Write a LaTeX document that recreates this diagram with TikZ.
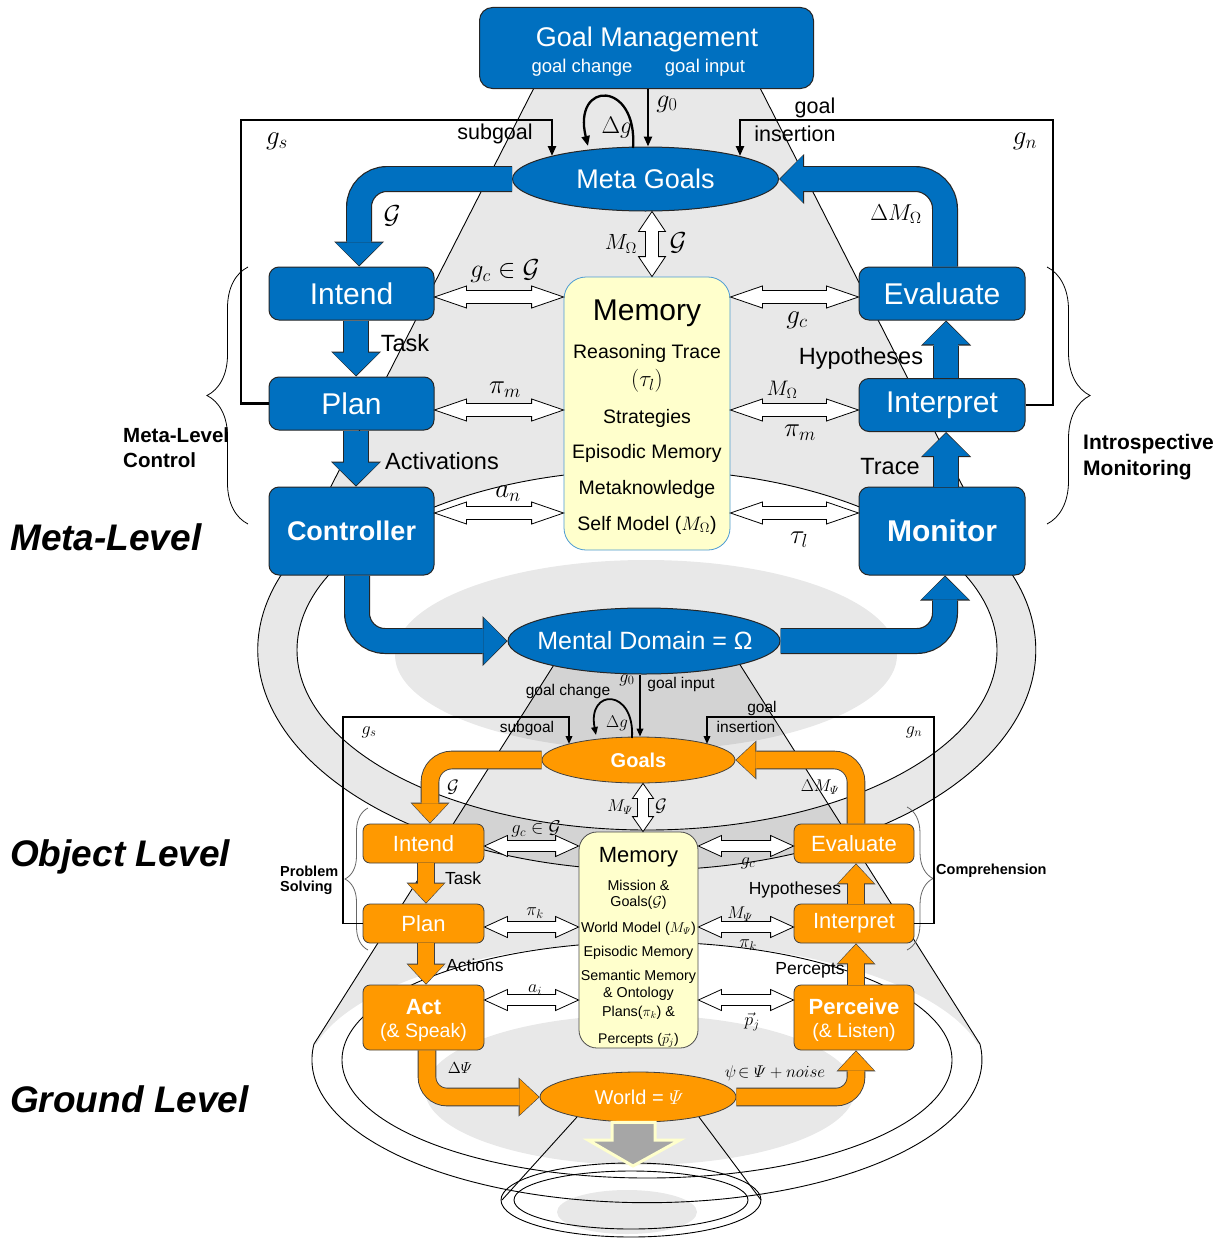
\RequirePackage{fix-cm}
\documentclass[tikz,border=0pt]{standalone}
\usepackage{amsmath}
\usepackage{fontspec}
\setmainfont{Liberation Sans}
\usetikzlibrary{arrows.meta,calc,decorations.pathreplacing,shapes.geometric}
\definecolor{mblue}{HTML}{0070C0}
\definecolor{morange}{HTML}{FF9900}
\definecolor{memfill}{HTML}{FFFFCC}
\newcommand\fsz[1]{\fontsize{#1}{#1}\selectfont}
\newcommand\hdbl[5]{\draw[hol] let \p1=#1, \p2=#2 in (\x1,\y1) -- ({\x1+#3pt},{\y1+#4pt}) -- ({\x1+#3pt},{\y1+#5pt}) -- ({\x2-#3pt},{\y1+#5pt}) -- ({\x2-#3pt},{\y1+#4pt}) -- (\x2,\y1) -- ({\x2-#3pt},{\y1-#4pt}) -- ({\x2-#3pt},{\y1-#5pt}) -- ({\x1+#3pt},{\y1-#5pt}) -- ({\x1+#3pt},{\y1-#4pt}) -- cycle;}
\newcommand\vdbl[5]{\draw[hol] let \p1=#1, \p2=#2 in (\x1,\y1) -- ({\x1+#4pt},{\y1-#3pt}) -- ({\x1+#5pt},{\y1-#3pt}) -- ({\x1+#5pt},{\y2+#3pt}) -- ({\x1+#4pt},{\y2+#3pt}) -- (\x1,\y2) -- ({\x1-#4pt},{\y2+#3pt}) -- ({\x1-#5pt},{\y2+#3pt}) -- ({\x1-#5pt},{\y1-#3pt}) -- ({\x1-#4pt},{\y1-#3pt}) -- cycle;}
\newcommand\bluearr[2][]{\draw[bout,#1] #2; \draw[bin,#1] #2;}
\newcommand\orarr[2][]{\draw[oout,#1] #2; \draw[oin,#1] #2;}
\tikzset{
 bbox/.style={draw=black!85, line width=1pt, fill=mblue, rounded corners=10pt, text=white, inner sep=0pt},
 obox/.style={draw=black!75, line width=0.8pt, fill=morange, rounded corners=7pt, text=white, inner sep=0pt},
 bell/.style={ellipse, draw=black!85, line width=1pt, fill=mblue, text=white, inner sep=0pt},
 oell/.style={ellipse, draw=black!75, line width=0.8pt, fill=morange, text=white, inner sep=0pt},
 bout/.style={line width=26pt, draw=black!85, -{Triangle[width=50pt,length=25pt,line width=0pt]}},
 bin/.style={line width=23.6pt, draw=mblue, shorten >=1.2pt, -{Triangle[width=46.6pt,length=22.6pt,line width=0pt]}},
 oout/.style={line width=18.6pt, draw=black!75, -{Triangle[width=39pt,length=21pt,line width=0pt]}},
 oin/.style={line width=16.8pt, draw=morange, shorten >=1pt, -{Triangle[width=35.8pt,length=19pt,line width=0pt]}},
 hol/.style={draw=black, line width=0.8pt, fill=white},
 bgl/.style={draw=black, line width=0.9pt},
 gfill/.style={fill=black, fill opacity=0.09},
 loopm/.style={line width=2.3pt, -{Triangle[length=10pt,width=8pt]}},
 loopo/.style={line width=1.8pt, -{Triangle[length=8pt,width=6.5pt]}},
 lbl/.style={inner sep=0pt},
}
\begin{document}
\begin{tikzpicture}[x=1pt,y=-1pt]
\useasboundingbox (0,0) rectangle (1227,1239);
\fill[white] (0,0) rectangle (1227,1239);

% ---------- background grey shapes ----------
\fill[gfill, even odd rule] (538,80) -- (756,80) -- (998,555) arc[start angle=-25.6, end angle=205.6, x radius=389, y radius=220] -- cycle (647,650) ellipse [x radius=350, y radius=180];
\begin{scope}
\clip (569,641) -- (725,641) -- (980,1044) -- (314,1044) -- cycle;
\fill[gfill, even odd rule] (300,600) rectangle (1000,1060) (647,1075) ellipse [x radius=340, y radius=133];
\end{scope}
\fill[gfill] (646,655) ellipse [x radius=251, y radius=95];
\fill[gfill] (640,1090) ellipse [x radius=215, y radius=75];
\fill[gfill] (627,1212) ellipse [x radius=70, y radius=22];

\draw[bgl] (538,80) -- (296,555) arc[start angle=205.6, end angle=-25.6, x radius=389, y radius=220] -- (756,80);
\draw[bgl] (647,650) ellipse [x radius=350, y radius=180];
\draw[bgl] (569,641) -- (314,1044) arc[start angle=186.3, end angle=-6.3, x radius=335, y radius=143] -- (725,641);
\draw[bgl] (647,1060) ellipse [x radius=305, y radius=118];
\draw[bgl] (577,1117) -- (502,1200);
\draw[bgl] (699,1117) -- (761,1200);
\draw[bgl] (631,1200) ellipse [x radius=130, y radius=37];
\draw[bgl] (631,1200) ellipse [x radius=117, y radius=29];

% ---------- braces ----------
\draw[line width=0.8pt, decorate, decoration={brace, amplitude=41pt}] (248,524) -- (248,267);
\draw[line width=0.8pt, decorate, decoration={brace, amplitude=43pt}] (1047,267) -- (1047,524);
\draw[line width=0.8pt, black!60, decorate, decoration={brace, amplitude=23pt}] (368,950) -- (368,808);
\draw[line width=0.8pt, black!60, decorate, decoration={brace, amplitude=26pt}] (907,807) -- (907,950);

% ---------- meta level nodes ----------
\node[bbox, rounded corners=13pt, minimum width=334pt, minimum height=81pt] (gm) at (646.5,48) {};
\node[lbl, text=white, font=\fsz{27}] (gmt) at (647,40) {Goal Management};
\node[lbl, text=white, font=\fsz{18.5}] (gmc) at (582,68) {goal change};
\node[lbl, text=white, font=\fsz{18.5}] (gmi) at (705,68) {goal input};

\node[bell, minimum width=266pt, minimum height=64pt, font=\fsz{27}] (mg) at (645.5,179) {Meta Goals};
\node[bell, minimum width=272pt, minimum height=66pt] (md) at (644,641) {};
\node[lbl, text=white, font=\fsz{25}] (mdt) at (645,641) {Mental Domain = Ω};

\node[bbox, minimum width=165pt, minimum height=53pt, font=\fsz{30}] (intend) at (351.5,293.5) {Intend};
\node[bbox, minimum width=165pt, minimum height=53pt, font=\fsz{30}] (plan) at (351.5,403.5) {Plan};
\node[bbox, minimum width=165pt, minimum height=88pt, font=\fsz{27}\bfseries] (controller) at (351.5,531) {Controller};
\node[bbox, minimum width=166pt, minimum height=53pt, font=\fsz{30}] (evaluate) at (942,293.5) {Evaluate};
\node[bbox, minimum width=166pt, minimum height=53pt, font=\fsz{30}] (interpret) at (942,405) {Interpret};
\node[bbox, minimum width=166pt, minimum height=88pt, font=\fsz{30}\bfseries] (monitor) at (942,531) {Monitor};

\node[draw=mblue!70, line width=0.8pt, fill=memfill, rounded corners=22pt, minimum width=166pt, minimum height=273pt, inner sep=0pt] (mem) at (647,413.5) {};
\node[lbl, font=\fsz{30}] (memt) at (647,313) {Memory};
\node[lbl, font=\fsz{19.5}] (mem1) at (647,353) {Reasoning Trace};
\node[lbl, font=\fsz{23}] (mem2) at (647,381) {$(\tau_l)$};
\node[lbl, font=\fsz{19.5}] (mem3) at (647,418) {Strategies};
\node[lbl, font=\fsz{19.5}] (mem4) at (647,453) {Episodic Memory};
\node[lbl, font=\fsz{19.5}] (mem5) at (647,489) {Metaknowledge};
\node[lbl, font=\fsz{19.5}] (mem6) at (647,525) {Self Model ($M_\Omega$)};

% ---------- object level nodes ----------
\node[oell, minimum width=193pt, minimum height=46pt, font=\fsz{20}\bfseries] (goals) at (638.5,760) {Goals};
\node[obox, minimum width=121pt, minimum height=39pt, font=\fsz{22}] (intendo) at (423.5,843.5) {Intend};
\node[obox, minimum width=121pt, minimum height=39pt, font=\fsz{22}] (plano) at (423.5,923.5) {Plan};
\node[obox, minimum width=121pt, minimum height=65pt] (act) at (423.5,1017.5) {};
\node[lbl, text=white, font=\fsz{22}\bfseries] (actt) at (423.5,1007) {Act};
\node[lbl, text=white, font=\fsz{19.5}] (acts) at (423.5,1032) {(\& Speak)};
\node[obox, minimum width=120pt, minimum height=39pt, font=\fsz{22}] (evaluateo) at (854,843.5) {Evaluate};
\node[obox, minimum width=120pt, minimum height=39pt, font=\fsz{22}] (interpreto) at (854,923.5) {Interpret};
\node[obox, minimum width=120pt, minimum height=65pt] (perceive) at (854,1017.5) {};
\node[lbl, text=white, font=\fsz{22}\bfseries] (perct) at (854,1007) {Perceive};
\node[lbl, text=white, font=\fsz{19.5}] (percs) at (854,1032) {(\& Listen)};
\node[oell, minimum width=196pt, minimum height=50pt] (world) at (638,1097) {};
\node[lbl, text=white, font=\fsz{20}] (worldt) at (639,1097) {World = $\varPsi$};

\node[draw=black!70, line width=0.8pt, fill=memfill, rounded corners=18pt, minimum width=119pt, minimum height=216pt, inner sep=0pt] (memo) at (638.5,940) {};
\node[lbl, font=\fsz{22}] (memot) at (638.5,857) {Memory};
\node[lbl, font=\fsz{14.3}] (memo1) at (638.5,885) {Mission \&};
\node[lbl, font=\fsz{14.3}] (memo2) at (638.5,903) {Goals($\mathcal{G}$)};
\node[lbl, font=\fsz{14.3}] (memo3) at (638.5,929) {World Model ($M_{\varPsi}$)};
\node[lbl, font=\fsz{14.3}] (memo4) at (638.5,953) {Episodic Memory};
\node[lbl, font=\fsz{14.3}] (memo5) at (638.5,977) {Semantic Memory};
\node[lbl, font=\fsz{14.3}] (memo6) at (638.5,994) {\& Ontology};
\node[lbl, font=\fsz{14.3}] (memo7) at (638.5,1013) {Plans($\pi_k$) \&};
\node[lbl, font=\fsz{14}] (memo8) at (638.5,1040) {Percepts ($\vec{p}_j$)};

% ---------- down arrow below world ----------
\draw[draw=memfill, line width=3pt, fill=black!35] (world.south -| 612,0) -- (612,1140) -- (588,1140) -- (633,1166) -- (680,1140) -- (655,1140) -- (world.south -| 655,0) -- cycle;

% ---------- thin black connectors ----------
\coordinate (sgm) at (552,156);
\coordinate (gim) at (740,156);
\coordinate (sgo) at (569,744);
\coordinate (gio) at (707,744);
\draw[loopm] (plan.west) -- (241,403.5) -- (241,120) -- (552,120) -- (sgm);
\draw[loopm] (interpret.east) -- (1053,405) -- (1053,120) -- (740,120) -- (gim);
\draw[loopm] (gm.south -| 648,0) -- (mg.north -| 648,0);
\draw[loopm] (633,148) .. controls (638,80) and (572,80) .. (588,146);
\draw[loopo] (plano.west) -- (343,923.5) -- (343,717) -- (569,717) -- (sgo);
\draw[loopo] (interpreto.east) -- (934,923.5) -- (934,717) -- (707,717) -- (gio);
\draw[loopo] (md.south -| 640,0) -- (goals.north -| 640,0);
\draw[loopo] (632,738) .. controls (635,688) and (587,688) .. (596,735);

% ---------- hollow double arrows ----------
\hdbl{(intend.east |- 0,297)}{(mem.west |- 0,297)}{32}{11}{6.5}
\hdbl{(plan.east |- 0,410)}{(mem.west |- 0,410)}{32}{11}{6.5}
\hdbl{(controller.east |- 0,513)}{(mem.west |- 0,513)}{32}{11}{6.5}
\hdbl{(mem.east |- 0,297)}{(evaluate.west |- 0,297)}{32}{11}{6.5}
\hdbl{(mem.east |- 0,410)}{(interpret.west |- 0,410)}{32}{11}{6.5}
\hdbl{(mem.east |- 0,513)}{(monitor.west |- 0,513)}{32}{11}{6.5}
\vdbl{(mg.south -| 652,0)}{(mem.north -| 652,0)}{20}{13.5}{6.5}
\hdbl{(intendo.east |- 0,846)}{(memo.west |- 0,846)}{23}{10.5}{5.5}
\hdbl{(plano.east |- 0,927)}{(memo.west |- 0,927)}{23}{10.5}{5.5}
\hdbl{(act.east |- 0,1000)}{(memo.west |- 0,1000)}{23}{10.5}{5.5}
\hdbl{(memo.east |- 0,846)}{(evaluateo.west |- 0,846)}{23}{10.5}{5.5}
\hdbl{(memo.east |- 0,927)}{(interpreto.west |- 0,927)}{23}{10.5}{5.5}
\hdbl{(memo.east |- 0,1000)}{(perceive.west |- 0,1000)}{23}{10.5}{5.5}
\vdbl{(goals.south -| 643,0)}{(memo.north -| 643,0)}{15}{10.5}{5.5}

% ---------- thick blue arrows ----------
\bluearr[rounded corners=28pt]{(mg.west) -| (intend.north -| 359,0)}
\bluearr[rounded corners=30pt]{(evaluate.north -| 945,0) |- (mg.east)}
\bluearr{(intend.south -| 356,0) -- (plan.north -| 356,0)}
\bluearr{(plan.south -| 356,0) -- (controller.north -| 356,0)}
\bluearr{(monitor.north -| 946,0) -- (interpret.south -| 946,0)}
\bluearr{(interpret.north -| 946,0) -- (evaluate.south -| 946,0)}
\bluearr[rounded corners=28pt]{(controller.south -| 357,0) |- (md.west)}
\bluearr[rounded corners=28pt]{(md.east) -| (monitor.south -| 945,0)}

% ---------- thick orange arrows ----------
\orarr[rounded corners=22pt]{(goals.west) -| (intendo.north -| 430,0)}
\orarr[rounded corners=22pt]{(evaluateo.north -| 856,0) |- (goals.east)}
\orarr{(intendo.south -| 426,0) -- (plano.north -| 426,0)}
\orarr{(plano.south -| 426,0) -- (act.north -| 426,0)}
\orarr{(perceive.north -| 856,0) -- (interpreto.south -| 856,0)}
\orarr{(interpreto.north -| 856,0) -- (evaluateo.south -| 856,0)}
\orarr[rounded corners=20pt]{(act.south -| 427,0) |- (world.west)}
\orarr[rounded corners=20pt]{(world.east) -| (perceive.south -| 856,0)}

% ---------- meta labels ----------
\node[lbl, font=\fsz{27}] (lgs) at (277,141) {$g_s$};
\node[lbl, font=\fsz{21.5}] (lsub) at (495,134) {subgoal};
\node[lbl, font=\fsz{21.5}] (lgoal) at (815,108) {goal};
\node[lbl, font=\fsz{21.5}] (lins) at (795,134) {insertion};
\node[lbl, font=\fsz{27}] (lgn) at (1025,141) {$g_n$};
\node[lbl, font=\fsz{26}] (lg0) at (667,104) {$g_0$};
\node[lbl, font=\fsz{24}] (ldg) at (617,128) {$\Delta g$};
\node[lbl, font=\fsz{26}] (lG1) at (392,216) {$\mathcal{G}$};
\node[lbl, font=\fsz{26}] (lgc1) at (505,271) {$g_c \in \mathcal{G}$};
\node[lbl, font=\fsz{23.5}] (ltask) at (405,343) {Task};
\node[lbl, font=\fsz{27}] (lpim1) at (505,390) {$\pi_m$};
\node[lbl, font=\fsz{23.5}] (lacti) at (442,461) {Activations};
\node[lbl, font=\fsz{27}] (lan) at (508,494) {$a_n$};
\node[lbl, font=\fsz{22}] (lmo1) at (621,244) {$M_\Omega$};
\node[lbl, font=\fsz{26}] (lG2) at (678,243) {$\mathcal{G}$};
\node[lbl, font=\fsz{23}] (ldmo) at (896,214) {$\Delta M_\Omega$};
\node[lbl, font=\fsz{27}] (lgc2) at (797,320) {$g_c$};
\node[lbl, font=\fsz{23.5}] (lhyp) at (861,358) {Hypotheses};
\node[lbl, font=\fsz{21}] (lmo2) at (782,390) {$M_\Omega$};
\node[lbl, font=\fsz{27}] (lpim2) at (800,433) {$\pi_m$};
\node[lbl, font=\fsz{23.5}] (ltrace) at (890,467) {Trace};
\node[lbl, font=\fsz{27}] (ltau) at (799,540) {$\tau_l$};

% ---------- object labels ----------
\node[lbl, font=\fsz{18}] (log0) at (627,680) {$g_0$};
\node[lbl, font=\fsz{15.5}] (logc) at (568,691) {goal change};
\node[lbl, font=\fsz{15.5}] (logi) at (681,684) {goal input};
\node[lbl, font=\fsz{17}] (lodg) at (617,723) {$\Delta g$};
\node[lbl, font=\fsz{15.5}] (losub) at (527,728) {subgoal};
\node[lbl, font=\fsz{18}] (logs) at (369,732) {$g_s$};
\node[lbl, font=\fsz{15.5}] (logoal) at (762,708) {goal};
\node[lbl, font=\fsz{15.5}] (loins) at (746,727) {insertion};
\node[lbl, font=\fsz{18}] (logn) at (914,732) {$g_n$};
\node[lbl, font=\fsz{18}] (loG1) at (453,787) {$\mathcal{G}$};
\node[lbl, font=\fsz{17}] (lodm) at (820,787) {$\Delta M_{\varPsi}$};
\node[lbl, font=\fsz{17}] (lomp1) at (620,807) {$M_{\varPsi}$};
\node[lbl, font=\fsz{18}] (loG2) at (661,806) {$\mathcal{G}$};
\node[lbl, font=\fsz{18.5}] (logc1) at (536,829) {$g_c \in \mathcal{G}$};
\node[lbl, font=\fsz{18}] (logc2) at (748,863) {$g_c$};
\node[lbl, font=\fsz{17.5}] (lotask) at (463,878) {Task};
\node[lbl, font=\fsz{17.5}] (lohyp) at (795,890) {Hypotheses};
\node[lbl, font=\fsz{18}] (lopk1) at (535,913) {$\pi_k$};
\node[lbl, font=\fsz{17}] (lomp2) at (740,914) {$M_{\varPsi}$};
\node[lbl, font=\fsz{18}] (lopk2) at (748,945) {$\pi_k$};
\node[lbl, font=\fsz{17.5}] (loacts) at (475,965) {Actions};
\node[lbl, font=\fsz{17.5}] (loperc) at (810,970) {Percepts};
\node[lbl, font=\fsz{18}] (loai) at (535,990) {$a_i$};
\node[lbl, font=\fsz{18}] (lopj) at (752,1022) {$\vec{p}_j$};
\node[lbl, font=\fsz{16}] (lodpsi) at (460,1068) {$\Delta\varPsi$};
\node[lbl, font=\fsz{17}] (lonoise) at (775,1073) {$\psi\!\in\varPsi+noise$};

% ---------- side labels ----------
\node[lbl, anchor=west, font=\fsz{20.5}\bfseries] (smc1) at (123,435) {Meta-Level};
\node[lbl, anchor=west, font=\fsz{20.5}\bfseries] (smc2) at (123,460) {Control};
\node[lbl, anchor=west, font=\fsz{21}\bfseries] (sim1) at (1083,444) {Introspective};
\node[lbl, anchor=west, font=\fsz{21}\bfseries] (sim2) at (1083,470) {Monitoring};
\node[lbl, anchor=west, font=\fsz{14.5}\bfseries] (sps1) at (280,871) {Problem};
\node[lbl, anchor=west, font=\fsz{14.5}\bfseries] (sps2) at (280,888) {Solving};
\node[lbl, anchor=west, font=\fsz{14.5}\bfseries] (scomp) at (936,871) {Comprehension};
\node[lbl, anchor=west, font=\fsz{37}\bfseries\itshape] (lvmeta) at (10,537) {Meta-Level};
\node[lbl, anchor=west, font=\fsz{37}\bfseries\itshape] (lvobj) at (10,857) {Object Level};
\node[lbl, anchor=west, font=\fsz{37}\bfseries\itshape] (lvgnd) at (10,1099) {Ground Level};
\end{tikzpicture}
\end{document}
